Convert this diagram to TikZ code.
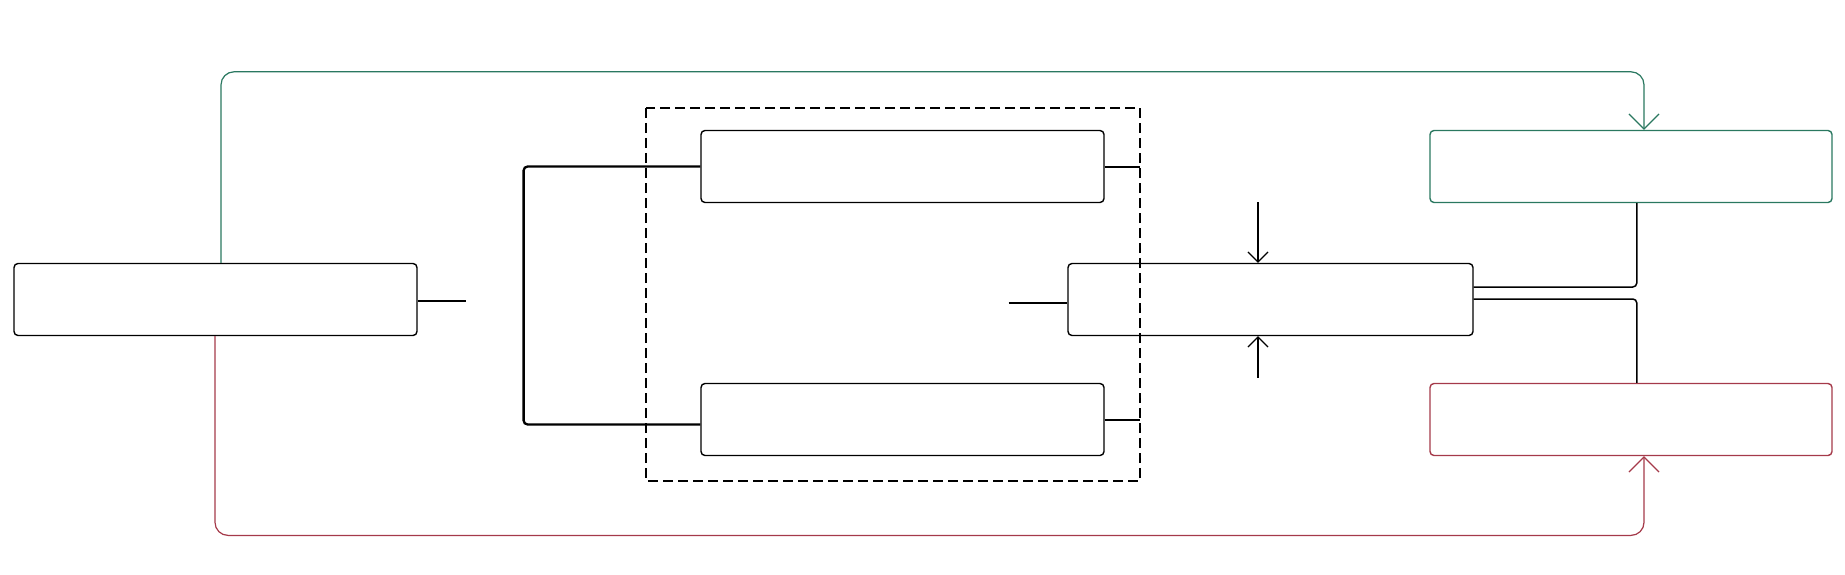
\documentclass[tikz,border=0pt]{standalone}
\usetikzlibrary{arrows.meta}
\definecolor{cgreen}{RGB}{42,120,96}
\definecolor{cred}{RGB}{165,58,74}
\begin{document}
\begin{tikzpicture}[x=1pt,y=-1pt,
  box/.style={draw=black,line width=1.4pt,rounded corners=4pt,rectangle,inner sep=0pt,minimum height=72pt},
  conn/.style={draw=black,line width=1.2pt},
  thick conn/.style={draw=black,line width=2.3pt,rounded corners=4pt},
  gtip/.style={-{Straight Barb[length=15pt,width=30pt]}},
  btip/.style={-{Straight Barb[length=10pt,width=20pt]}}]
\useasboundingbox (0,0) rectangle (1845,575);
% dashed group
\draw[line width=2.6pt,dash pattern=on 10pt off 5pt] (646,108) rectangle (1140,481);
\coordinate (dR1) at (1140,167);
\coordinate (dR2) at (1140,420);
% nodes
\node[box,minimum width=403pt] (L) at (215.5,299.5) {};
\node[box,minimum width=403pt] (T) at (902.5,166.5) {};
\node[box,minimum width=403pt] (B) at (902.5,419.5) {};
\node[box,minimum width=405pt] (M) at (1270.5,299.5) {};
\node[box,draw=cgreen,minimum width=402pt] (TR) at (1631,166.5) {};
\node[box,draw=cred,minimum width=402pt] (BR) at (1631,419.5) {};
% free ends
\coordinate (ls) at (466,301);
\coordinate (ms) at (1008.5,303);
\coordinate (ad) at (1258,202.4);
\coordinate (au) at (1258,377.7);
% stubs
\draw[conn] (L.east |- ls) -- (ls);
\draw[conn] (T.east |- dR1) -- (dR1);
\draw[conn] (B.east |- dR2) -- (dR2);
\draw[conn] (ms) -- (M.west |- ms);
% bracket
\draw[thick conn] (T.west) -- (523.6,166.5) -- (523.6,424.5) -- (B.west |- 0,424.5);
% arrows into M
\draw[conn,btip] (ad) -- (M.north -| ad);
\draw[conn,btip] (au) -- (M.south -| au);
% right connectors
\draw[conn,line width=1.5pt,rounded corners=4pt] (M.east |- 0,287) -- (1636.8,287) -- (TR.south -| 1636.8,0);
\draw[conn,line width=1.5pt,rounded corners=4pt] (M.east |- 0,299) -- (1636.8,299) -- (BR.north -| 1636.8,0);
% green and red feedback
\draw[draw=cgreen,line width=1.2pt,rounded corners=13pt,gtip] (L.north -| 221,0) -- (221,71.8) -- (1644,71.8) -- (TR.north -| 1644,0);
\draw[draw=cred,line width=1.2pt,rounded corners=13pt,gtip] (L.south -| 215,0) -- (215,535.4) -- (1644,535.4) -- (BR.south -| 1644,0);
\end{tikzpicture}
\end{document}
